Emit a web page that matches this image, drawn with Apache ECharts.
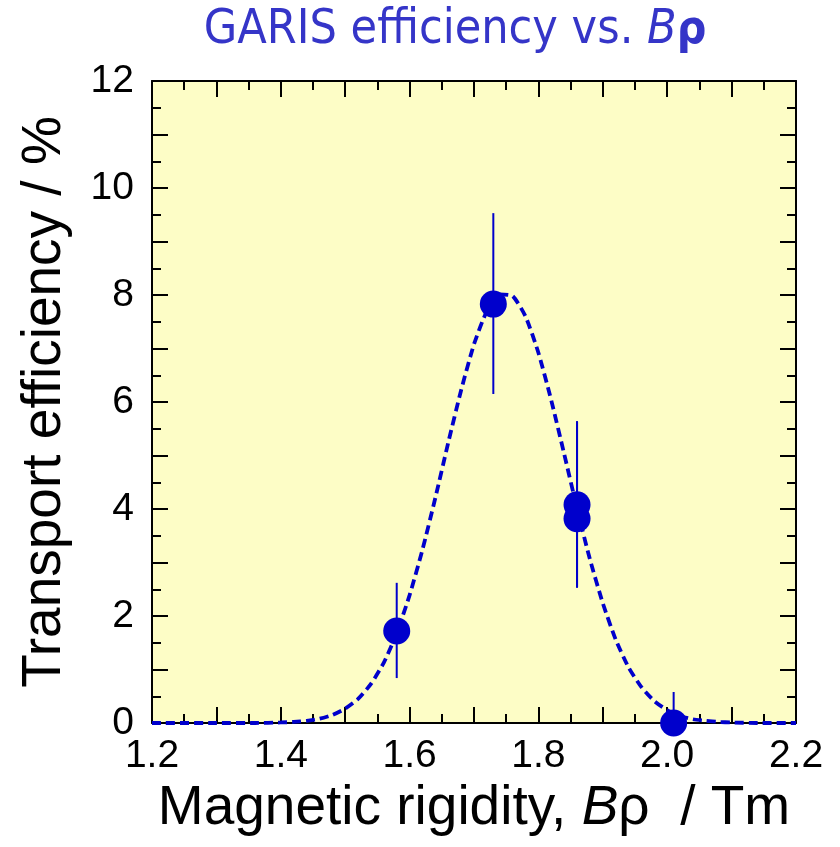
<!DOCTYPE html>
<html>
<head>
<meta charset="utf-8">
<script src="https://cdn.jsdelivr.net/npm/echarts@6/dist/echarts.min.js"></script>
<style>
  html, body { margin: 0; padding: 0; background: #fff; }
  #chart { width: 840px; height: 847px; }
</style>
</head>
<body>
<div id="chart"></div>
<script>
// measured points
const rigidity = [1.58, 1.73, 1.86, 1.86, 2.01];
const efficiency = [1.72, 7.83, 4.08, 3.82, 0.0];
const errLow = [0.84, 6.15, 2.53, 2.53, 0.0];
const errHigh = [2.62, 9.53, 5.64, 5.64, 0.58];

// dashed fit curve
const fitX = [1.2, 1.3, 1.36, 1.4, 1.42, 1.44, 1.46, 1.48, 1.5, 1.52, 1.54, 1.56, 1.58, 1.6,
  1.62, 1.64, 1.66, 1.68, 1.7, 1.72, 1.74, 1.76, 1.78, 1.8, 1.82, 1.84, 1.86, 1.88,
  1.9, 1.92, 1.94, 1.96, 1.98, 2.0, 2.02, 2.04, 2.06, 2.08, 2.1, 2.14, 2.2];
const fitY = [0, 0, 0, 0.01, 0.02, 0.04, 0.08, 0.15, 0.27, 0.45, 0.73, 1.13, 1.68, 2.39,
  3.24, 4.21, 5.24, 6.22, 7.08, 7.70, 8.01, 7.98, 7.60, 6.92, 6.03, 5.03, 4.01, 3.06,
  2.24, 1.56, 1.04, 0.67, 0.41, 0.24, 0.13, 0.07, 0.04, 0.02, 0.01, 0, 0];

const xTicks = ["1.2", "1.4", "1.6", "1.8", "2.0", "2.2"];

const blue = "#0000cc";
const font = "Liberation Sans";
const titleFont = "'DejaVu Sans Condensed', 'Liberation Sans'";

let chart = echarts.init(document.getElementById("chart"));

let axisCommon = {
  axisLine: { show: true, onZero: false, lineStyle: { color: "#000", width: 2 } },
  axisTick: { show: true, inside: true, length: 16, lineStyle: { color: "#000", width: 2 } },
  minorTick: { show: true, splitNumber: 2, length: 9, lineStyle: { color: "#000", width: 2 } },
  splitLine: { show: false }
};

let option = {
  backgroundColor: "#fff",
  animation: false,
  title: {
    text: "{a|GARIS efficiency vs. }{i|B}{b|ρ}",
    left: 450,
    textAlign: "center",
    top: 2,
    textStyle: {
      fontWeight: "normal",
      rich: {
        a: { fontFamily: titleFont, fontSize: 48, fontWeight: "normal", color: "#3535c8" },
        i: { fontFamily: titleFont, fontSize: 48, fontWeight: "normal", fontStyle: "italic", color: "#3535c8" },
        b: { fontFamily: titleFont, fontSize: 46, fontWeight: "bold", color: "#3535c8" }
      }
    }
  },
  grid: {
    left: 152,
    top: 81,
    width: 644,
    height: 642,
    show: true,
    backgroundColor: "#fdfdc6",
    borderWidth: 0
  },
  xAxis: [
    Object.assign({}, axisCommon, {
      type: "value",
      min: 1.2,
      max: 2.2,
      interval: 0.1,
      position: "bottom",
      name: "{a|Magnetic rigidity, }{i|B}{a|ρ  / Tm}",
      nameLocation: "middle",
      nameGap: 46,
      nameTextStyle: {
        rich: {
          a: { fontFamily: font, fontSize: 55, color: "#000" },
          i: { fontFamily: font, fontSize: 55, fontStyle: "italic", color: "#000" }
        }
      },
      axisLabel: {
        fontFamily: font,
        fontSize: 39,
        color: "#000",
        margin: 14,
        formatter: function (v) {
          let s = v.toFixed(1);
          return xTicks.indexOf(s) >= 0 ? s : "";
        }
      }
    }),
    Object.assign({}, axisCommon, {
      type: "value",
      min: 1.2,
      max: 2.2,
      interval: 0.1,
      position: "top",
      axisLabel: { show: false }
    })
  ],
  yAxis: [
    Object.assign({}, axisCommon, {
      type: "value",
      min: 0,
      max: 12,
      interval: 1,
      position: "left",
      name: "Transport efficiency / %",
      nameLocation: "middle",
      nameGap: 80,
      nameTextStyle: { fontFamily: font, fontSize: 55, color: "#000" },
      axisLabel: {
        fontFamily: font,
        fontSize: 39,
        color: "#000",
        margin: 18,
        formatter: function (v) {
          return v % 2 === 0 ? String(v) : "";
        }
      }
    }),
    Object.assign({}, axisCommon, {
      type: "value",
      min: 0,
      max: 12,
      interval: 1,
      position: "right",
      axisLabel: { show: false }
    })
  ],
  series: [
    {
      name: "fit",
      type: "line",
      data: fitX.map((x, i) => [x, fitY[i]]),
      showSymbol: false,
      smooth: 0.2,
      clip: false,
      lineStyle: { color: blue, width: 3.8, type: [9, 5] },
      z: 2
    },
    {
      name: "error",
      type: "custom",
      data: rigidity.map((x, i) => [x, errLow[i], errHigh[i]]),
      renderItem: function (params, api) {
        let p1 = api.coord([api.value(0), api.value(1)]);
        let p2 = api.coord([api.value(0), api.value(2)]);
        return {
          type: "line",
          shape: { x1: p1[0], y1: p1[1], x2: p2[0], y2: p2[1] },
          style: { stroke: blue, lineWidth: 2 }
        };
      },
      z: 3
    },
    {
      name: "data",
      type: "scatter",
      data: rigidity.map((x, i) => [x, efficiency[i]]),
      symbolSize: 27,
      clip: false,
      itemStyle: { color: blue, opacity: 1 },
      z: 4
    }
  ]
};

chart.setOption(option);
</script>
</body>
</html>
